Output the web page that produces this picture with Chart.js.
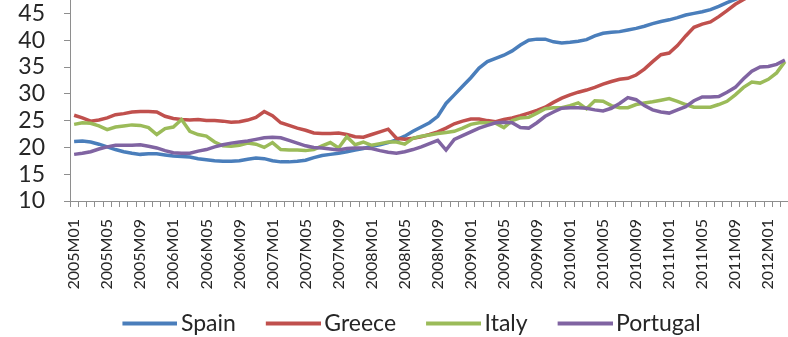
<!DOCTYPE html>
<html>
<head>
<meta charset="utf-8">
<script src="https://cdn.jsdelivr.net/npm/chart.js@4.4.1/dist/chart.umd.min.js"></script>
<style>
  html, body { margin: 0; padding: 0; background: #ffffff; overflow: hidden; width: 788px; height: 337px; }
  #wrap { position: absolute; left: 0; top: -67px; width: 792px; height: 412px; }
</style>
</head>
<body>
<div id="wrap"><canvas id="chart"></canvas></div>
<script>
// Monthly categories, 2005M01 .. 2012M03
const firstYear = 2005;
const monthCount = 87;
const months = [];
for (let k = 0; k < monthCount; k++) {
  const y = firstYear + Math.floor(k / 12);
  const m = (k % 12) + 1;
  months.push(y + 'M' + (m < 10 ? '0' + m : String(m)));
}

// Every fourth month gets a visible label
const labelStep = 4;

// Unemployment rate, %
const spain = [21.1, 21.2, 21.0, 20.6, 20.1, 19.6, 19.2, 18.9, 18.7, 18.8, 18.8, 18.6,
  18.4, 18.3, 18.2, 17.9, 17.7, 17.5, 17.4, 17.4, 17.5, 17.8, 18.0, 17.9,
  17.5, 17.3, 17.3, 17.4, 17.6, 18.1, 18.5, 18.7, 18.9, 19.2, 19.5, 19.8,
  20.2, 20.5, 20.9, 21.4, 22.1, 23.0, 23.8, 24.6, 25.8, 28.2, 29.8, 31.4,
  33.0, 34.8, 36.0, 36.6, 37.2, 38.0, 39.1, 40.0, 40.2, 40.2, 39.7, 39.5,
  39.6, 39.8, 40.1, 40.8, 41.3, 41.5, 41.6, 41.9, 42.2, 42.6, 43.1, 43.5,
  43.8, 44.2, 44.7, 45.0, 45.3, 45.7, 46.3, 47.0, 47.6, 48.2, 48.8, 49.3,
  49.8, 50.3, 50.8];

const greece = [26.0, 25.5, 24.9, 25.1, 25.5, 26.1, 26.3, 26.6, 26.7, 26.7, 26.6, 25.8,
  25.4, 25.2, 25.1, 25.2, 25.0, 25.0, 24.9, 24.7, 24.8, 25.1, 25.6, 26.7,
  25.9, 24.6, 24.1, 23.6, 23.2, 22.7, 22.6, 22.6, 22.7, 22.4, 22.0, 21.9,
  22.4, 22.9, 23.4, 21.7, 21.5, 21.7, 22.0, 22.4, 22.9, 23.6, 24.4, 24.9,
  25.3, 25.3, 25.0, 24.8, 25.2, 25.5, 25.9, 26.4, 26.9, 27.5, 28.4, 29.2,
  29.8, 30.3, 30.7, 31.2, 31.8, 32.3, 32.7, 32.9, 33.5, 34.6, 36.0, 37.3,
  37.6, 39.0, 40.8, 42.4, 43.0, 43.4, 44.4, 45.5, 46.7, 47.6, 48.4, 49.2,
  50.0, 50.7, 51.5];

const italy = [24.3, 24.6, 24.5, 24.0, 23.3, 23.8, 24.0, 24.2, 24.1, 23.7, 22.4, 23.5,
  23.8, 25.2, 23.0, 22.4, 22.1, 21.0, 20.3, 20.2, 20.4, 20.8, 20.6, 20.0,
  20.9, 19.6, 19.5, 19.5, 19.4, 19.6, 20.3, 20.9, 19.9, 22.0, 20.5, 21.0,
  20.4, 20.7, 21.0, 21.0, 20.6, 21.7, 22.1, 22.3, 22.6, 22.8, 23.0, 23.6,
  24.3, 24.6, 24.6, 24.5, 23.7, 25.0, 25.5, 25.6, 26.4, 27.2, 27.4, 27.4,
  27.8, 28.3, 27.2, 28.7, 28.6, 27.8, 27.4, 27.4, 28.0, 28.3, 28.5, 28.8,
  29.1, 28.6, 28.0, 27.5, 27.5, 27.5, 28.0, 28.6, 29.8, 31.2, 32.2, 32.0,
  32.7, 33.9, 36.0];

const portugal = [18.7, 18.9, 19.2, 19.7, 20.1, 20.4, 20.4, 20.4, 20.5, 20.2, 19.9, 19.4,
  19.0, 18.9, 18.9, 19.3, 19.6, 20.1, 20.5, 20.8, 21.0, 21.2, 21.5, 21.8,
  21.9, 21.8, 21.3, 20.8, 20.3, 20.0, 19.9, 19.7, 19.5, 19.8, 19.9, 19.9,
  19.8, 19.4, 19.1, 18.9, 19.2, 19.6, 20.1, 20.7, 21.3, 19.5, 21.5, 22.2,
  22.9, 23.6, 24.1, 24.6, 24.7, 24.6, 23.7, 23.6, 24.6, 25.8, 26.6, 27.3,
  27.4, 27.4, 27.3, 27.0, 26.8, 27.3, 28.2, 29.3, 28.9, 27.8, 27.0, 26.6,
  26.4, 27.0, 27.6, 28.7, 29.4, 29.4, 29.5, 30.3, 31.2, 32.8, 34.2, 35.0,
  35.1, 35.5, 36.3];

const seriesNames = ['Spain', 'Greece', 'Italy', 'Portugal'];
const seriesColors = ['#4a7ebb', '#c0504d', '#9bbb59', '#8064a2'];
const seriesData = [spain, greece, italy, portugal];

const FONT = 'Lato, "Open Sans", "Liberation Sans", sans-serif';
const TEXT = '#262626';
const AXIS = '#8e8e8e';

// Legend key: blank lead-in followed by a flat stroke, drawn as a small
// bitmap used as the point style
const KEY_LEAD = 20, KEY_LEN = 55, KEY_BOX = KEY_LEAD + 47;
function keySwatch(color) {
  const c = document.createElement('canvas');
  const w = 2 * (KEY_LEAD + KEY_LEN - KEY_BOX / 2);
  c.width = w; c.height = 6;
  const g = c.getContext('2d');
  g.fillStyle = color;
  g.fillRect(w - KEY_LEN, 1, KEY_LEN, 4);
  return c;
}

// Horizontal nudge of the legend row
const LEGEND_SHIFT = 7;
const legendNudge = {
  id: 'legendNudge',
  afterLayout(chart) {
    if (chart.legend) {
      chart.legend.left += LEGEND_SHIFT;
      chart.legend.right += LEGEND_SHIFT;
    }
  }
};

const datasets = seriesNames.map((name, k) => ({
  label: name,
  data: seriesData[k],
  borderColor: seriesColors[k],
  backgroundColor: seriesColors[k],
  borderWidth: 3.5,
  pointRadius: 0,
  tension: 0,
  fill: false,
  order: seriesNames.length - k   // later series are painted on top
}));

new Chart(document.getElementById('chart'), {
  type: 'line',
  data: { labels: months, datasets },
  plugins: [legendNudge],
  options: {
    responsive: true,
    maintainAspectRatio: false,
    animation: false,
    layout: { padding: { left: 0, right: 3, top: 0, bottom: 0 } },
    plugins: {
      tooltip: { enabled: false },
      legend: {
        position: 'bottom',
        labels: {
          usePointStyle: true,
          pointStyleWidth: KEY_BOX,
          padding: 10,
          color: TEXT,
          font: { family: FONT, size: 23 },
          generateLabels(chart) {
            return chart.data.datasets.map((ds, i) => ({
              text: ds.label,
              fillStyle: ds.borderColor,
              strokeStyle: ds.borderColor,
              lineWidth: 0,
              pointStyle: keySwatch(ds.borderColor),
              hidden: false,
              datasetIndex: i,
              fontColor: TEXT
            }));
          }
        }
      }
    },
    scales: {
      x: {
        type: 'category',
        offset: true,
        grid: { offset: true, drawOnChartArea: false, drawTicks: true, tickLength: 6, color: AXIS, lineWidth: 1 },
        border: { color: AXIS, width: 1 },
        ticks: {
          autoSkip: false,
          minRotation: 90,
          maxRotation: 90,
          padding: 12,
          color: TEXT,
          font: { family: FONT, size: 16 },
          callback: (value, index) => (index % labelStep === 0 ? months[index] : '')
        },
        afterFit(scale) {
          scale.height = 101;
          scale.paddingLeft = 0;
          scale.paddingRight = 0;
        }
      },
      y: {
        min: 10,
        max: 60,
        grid: { drawOnChartArea: false, drawTicks: true, tickLength: 6, color: AXIS },
        border: { color: AXIS, width: 1 },
        ticks: {
          stepSize: 5,
          autoSkip: false,
          padding: 19,
          color: TEXT,
          font: { family: FONT, size: 23 }
        },
        afterFit(scale) {
          scale.width = 70;
          scale.paddingTop = 0;
          scale.paddingBottom = 0;
        }
      }
    }
  }
});
</script>
</body>
</html>
